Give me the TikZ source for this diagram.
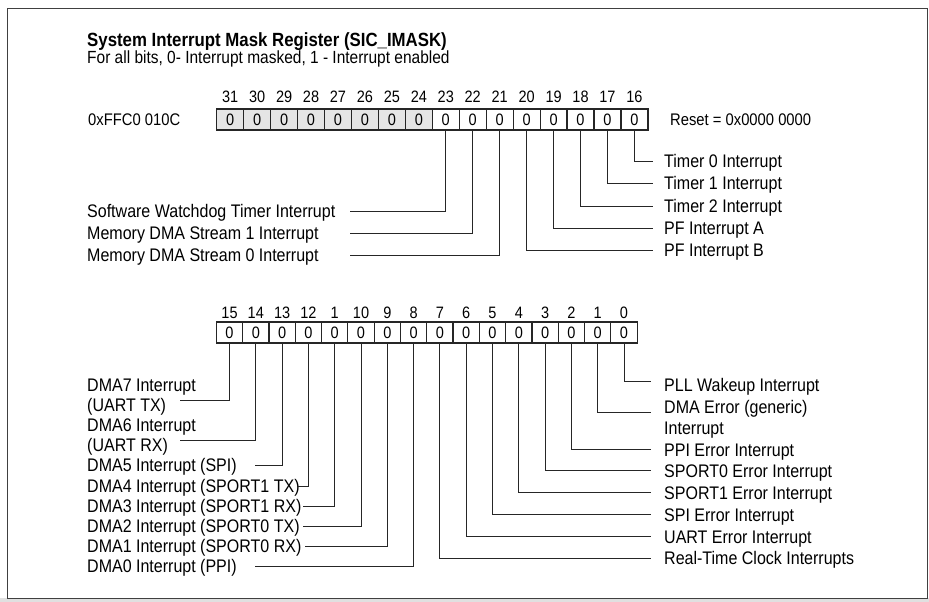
\documentclass[tikz,border=0pt]{standalone}
\usepackage{fontspec}
\setmainfont{Liberation Sans}[FakeStretch=0.88]
\begin{document}
\begin{tikzpicture}[x=1pt,y=-1pt]
\tikzset{
  lbl/.style={anchor=west, inner sep=0pt, font=\fontsize{18.2}{21}\selectfont, text height=13pt, text depth=0pt},
  num/.style={inner sep=0pt, font=\fontsize{16.5}{19}\selectfont, text height=11.8pt, text depth=0pt},
  cellbase/.style={draw=black!85, line width=1.2pt, minimum height=21pt, inner sep=0pt, font=\fontsize{16.5}{19}\selectfont},
  topcell/.style={cellbase, minimum width=26.95pt},
  botcell/.style={cellbase, minimum width=26.3pt},
  rsvd/.style={fill=black!10},
  conn/.style={draw=black!85, line width=1pt},
  head/.style={anchor=west, inner sep=0pt, font=\fontsize{16.8}{19}\selectfont, text height=12pt, text depth=0pt},
}
\useasboundingbox (0,0) rectangle (929,602);
\fill[white] (0,0) rectangle (929,602);
\fill[black!12] (0,598) rectangle (929,602);
\draw[black!75, line width=1pt] (7,9) rectangle (927,598);

% title
\node[anchor=west, inner sep=0pt, font=\bfseries\fontsize{19.1}{22}\selectfont, text height=13.7pt, text depth=0pt] (title) at (87,40) {System Interrupt Mask Register (SIC\_IMASK)};
\node[anchor=west, inner sep=0pt, font=\fontsize{17.6}{20}\selectfont, text height=12.6pt, text depth=0pt] (sub) at (87,57) {For all bits, 0- Interrupt masked, 1 - Interrupt enabled};

% top register
\node[head] (addr) at (88,119) {0xFFC0 010C};
\foreach \i in {0,...,7}{
  \pgfmathtruncatemacro\b{31-\i}
  \node[topcell, rsvd] (t\b) at ({230.175+\i*26.95},119.5) {0};
  \node[num] (tn\b) at ({230.175+\i*26.95},97) {\b};
}
\foreach \i in {8,...,15}{
  \pgfmathtruncatemacro\b{31-\i}
  \node[topcell] (t\b) at ({230.175+\i*26.95},119.5) {0};
  \node[num] (tn\b) at ({230.175+\i*26.95},97) {\b};
}
\node[head] (reset) at (670,119) {Reset = 0x0000 0000};

% top labels right
\node[lbl] (l16) at (664,161) {Timer 0 Interrupt};
\node[lbl] (l17) at (664,183) {Timer 1 Interrupt};
\node[lbl] (l18) at (664,206) {Timer 2 Interrupt};
\node[lbl] (l19) at (664,228) {PF Interrupt A};
\node[lbl] (l20) at (664,250) {PF Interrupt B};
\coordinate (e16) at (653,161);
\coordinate (e17) at (653,183);
\coordinate (e18) at (653,206);
\coordinate (e19) at (653,228);
\coordinate (e20) at (653,250);
% top labels left
\node[lbl] (l23) at (87,211) {Software Watchdog Timer Interrupt};
\node[lbl] (l22) at (87,233) {Memory DMA Stream 1 Interrupt};
\node[lbl] (l21) at (87,255) {Memory DMA Stream 0 Interrupt};
\coordinate (e23) at (350,211);
\coordinate (e22) at (350,233);
\coordinate (e21) at (350,255);
\foreach \b in {16,...,23}{
  \draw[conn] (t\b.south) |- (e\b);
}

% bottom register
\foreach \i/\lab in {0/15,1/14,2/13,3/12,4/1,5/10,6/9,7/8,8/7,9/6,10/5,11/4,12/3,13/2,14/1,15/0}{
  \pgfmathtruncatemacro\b{15-\i}
  \node[botcell] (b\b) at ({229.5+\i*26.3},332.5) {0};
  \node[num] (bn\b) at ({229.5+\i*26.3},313) {\lab};
}

% bottom labels left
\node[lbl] (l15a) at (87,385) {DMA7 Interrupt};
\node[lbl] (l15b) at (87,405) {(UART TX)};
\node[lbl] (l14a) at (87,425) {DMA6 Interrupt};
\node[lbl] (l14b) at (87,445) {(UART RX)};
\node[lbl] (l13) at (87,465) {DMA5 Interrupt (SPI)};
\node[lbl] (l12) at (87,486) {DMA4 Interrupt (SPORT1 TX)};
\node[lbl] (l11) at (87,506) {DMA3 Interrupt (SPORT1 RX)};
\node[lbl] (l10) at (87,526) {DMA2 Interrupt (SPORT0 TX)};
\node[lbl] (l9) at (87,546) {DMA1 Interrupt (SPORT0 RX)};
\node[lbl] (l8) at (87,566) {DMA0 Interrupt (PPI)};
\coordinate (e15) at (180,400);
\coordinate (e14) at (180,440);
\coordinate (e13) at (255,465);
\coordinate (e12) at (298,486);
\coordinate (e11) at (303,506);
\coordinate (e10) at (303,526);
\coordinate (e9) at (305,546);
\coordinate (e8) at (255,566);

% bottom labels right
\node[lbl] (l0) at (664,385) {PLL Wakeup Interrupt};
\node[lbl] (l1a) at (664,407) {DMA Error (generic)};
\node[lbl] (l1b) at (664,428) {Interrupt};
\node[lbl] (l2) at (664,450) {PPI Error Interrupt};
\node[lbl] (l3) at (664,471) {SPORT0 Error Interrupt};
\node[lbl] (l4) at (664,493) {SPORT1 Error Interrupt};
\node[lbl] (l5) at (664,515) {SPI Error Interrupt};
\node[lbl] (l6) at (664,537) {UART Error Interrupt};
\node[lbl] (l7) at (664,558) {Real-Time Clock Interrupts};
\coordinate (e0) at (651,381);
\coordinate (e1) at (651,412);
\coordinate (e2) at (651,449);
\coordinate (e3) at (651,470);
\coordinate (e4) at (651,492);
\coordinate (e5) at (651,514);
\coordinate (e6) at (651,536);
\coordinate (e7) at (651,558);

\foreach \b in {0,...,15}{
  \draw[conn] (b\b.south) |- (e\b);
}
\end{tikzpicture}
\end{document}
